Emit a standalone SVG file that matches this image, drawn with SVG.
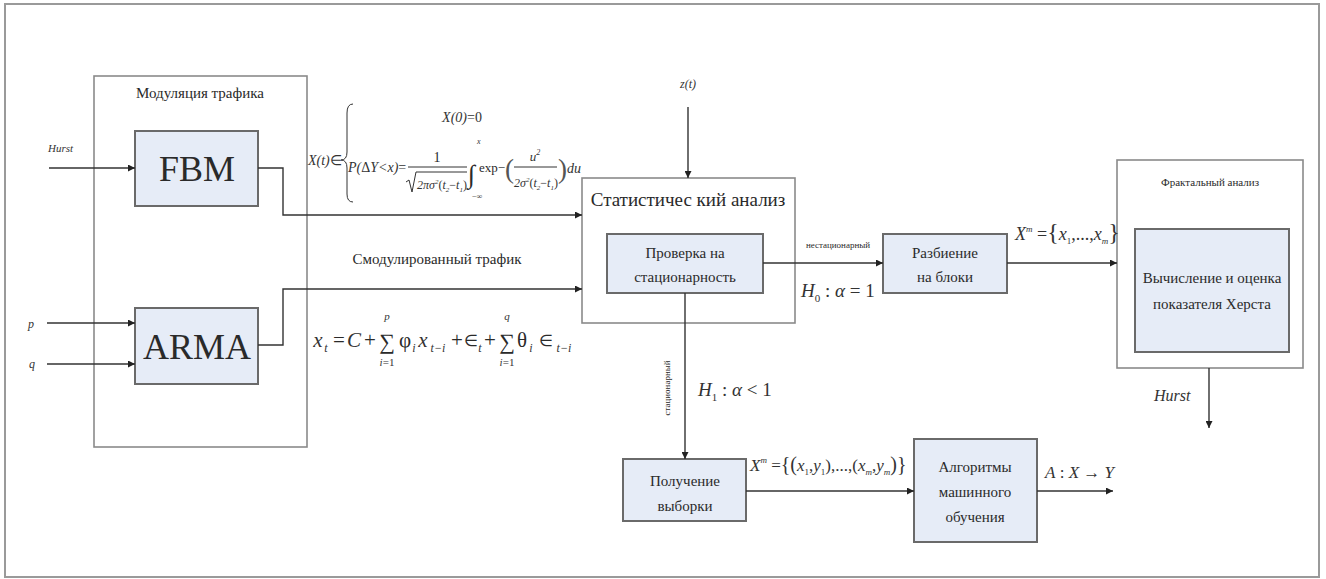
<svg xmlns="http://www.w3.org/2000/svg" width="1326" height="579" viewBox="0 0 1326 579">
<defs>
<marker id="ah" viewBox="0 0 10 10" refX="10" refY="5" markerWidth="9" markerHeight="7" markerUnits="userSpaceOnUse" orient="auto">
<path d="M0,0 L10,5 L0,10 z" fill="#222"/>
</marker>
<style>
.frame{fill:#fff;stroke:#9a9a9a;stroke-width:2}
.grp{fill:#fff;stroke:#8a8a8a;stroke-width:1.6}
.blk{fill:#e6ecf7;stroke:#6a6a6a;stroke-width:2}
.ln{fill:none;stroke:#333;stroke-width:1}
.arr{fill:none;stroke:#333;stroke-width:1.4;marker-end:url(#ah)}
text{font-family:"Liberation Serif","Times New Roman",serif;fill:#2a2a2a}
.t15{font-size:15px;text-anchor:middle}
.big{font-size:36px;text-anchor:middle}
.m{font-style:italic;fill:#333}
.c{text-anchor:middle}
.f21{font-size:21px}
.e{font-size:16px}
.s12{font-size:12px}
.s11{font-size:11px}
</style>
</defs>
<rect class="frame" x="5" y="4" width="1314" height="573"/>

<g id="modulation">
<rect class="grp" x="94" y="76" width="213" height="371"/>
<text class="t15" x="200" y="98">Модуляция трафика</text>
</g>
<g id="fbm">
<rect class="blk" x="135" y="131" width="123" height="75"/>
<text class="big" x="197" y="181">FBM</text>
</g>
<g id="arma">
<rect class="blk" x="135" y="308" width="123" height="76"/>
<text class="big" x="197" y="359">ARMA</text>
</g>
<g id="stat">
<rect class="grp" x="582" y="178" width="213" height="145"/>
<text x="688" y="206" style="font-size:19px;text-anchor:middle">Статистичес кий анализ</text>
</g>
<g id="check">
<rect class="blk" x="607" y="234" width="156" height="59"/>
<text class="t15" x="685" y="258">Проверка на</text>
<text class="t15" x="685" y="282">стационарность</text>
</g>
<g id="split">
<rect class="blk" x="883" y="234" width="124" height="59"/>
<text class="t15" x="945" y="258">Разбиение</text>
<text class="t15" x="945" y="282">на блоки</text>
</g>
<g id="fractal">
<rect class="grp" x="1117" y="160" width="186" height="208"/>
<text x="1210" y="186" style="font-size:11px;text-anchor:middle">Фрактальный анализ</text>
</g>
<g id="hurstcalc">
<rect class="blk" x="1135" y="229" width="154" height="123"/>
<text class="t15" x="1212" y="283">Вычисление и оценка</text>
<text class="t15" x="1212" y="309">показателя Херста</text>
</g>
<g id="sample">
<rect class="blk" x="623" y="459" width="123" height="62"/>
<text class="t15" x="685" y="486">Получение</text>
<text class="t15" x="685" y="511">выборки</text>
</g>
<g id="ml">
<rect class="blk" x="914" y="439" width="123" height="103"/>
<text class="t15" x="975" y="472">Алгоритмы</text>
<text class="t15" x="975" y="497">машинного</text>
<text class="t15" x="975" y="522">обучения</text>
</g>

<g id="connectors">
<line class="arr" x1="49" y1="168" x2="135" y2="168"/>
<line class="arr" x1="47" y1="323" x2="135" y2="323"/>
<line class="arr" x1="47" y1="364" x2="135" y2="364"/>
<polyline class="arr" points="258,168 283,168 283,215 582,215"/>
<polyline class="arr" points="258,345 283,345 283,289 582,289"/>
<line class="arr" x1="688" y1="107" x2="688" y2="178"/>
<line class="arr" x1="763" y1="263" x2="883" y2="263"/>
<line class="arr" x1="1007" y1="263" x2="1117" y2="263"/>
<line class="arr" x1="1209" y1="368" x2="1209" y2="428"/>
<line class="arr" x1="685" y1="293" x2="685" y2="459"/>
<line class="arr" x1="746" y1="491" x2="914" y2="491"/>
<line class="arr" x1="1037" y1="491" x2="1113" y2="491"/>
</g>

<g id="labels">
<text class="m" x="48" y="152" style="font-size:11px">Hurst</text>
<text class="m" x="28" y="328" style="font-size:12px">p</text>
<text class="m" x="29" y="368" style="font-size:12px">q</text>
<text class="m" x="688" y="88" style="font-size:12px;text-anchor:middle">z(t)</text>
<text x="437" y="264" style="font-size:15px;text-anchor:middle">Смодулированный трафик</text>
<text x="838" y="248" style="font-size:9px;text-anchor:middle">нестационарный</text>
<text x="670" y="388" transform="rotate(-90 670 388)" style="font-size:9px;text-anchor:middle">стационарный</text>
<text class="m" x="1154" y="401" style="font-size:16px">Hurst</text>

<text class="m" x="801" y="297" style="font-size:19px">H<tspan dy="5" style="font-size:11px;font-style:normal">0</tspan><tspan dy="-5" style="font-style:normal"> : </tspan>α<tspan style="font-style:normal"> = 1</tspan></text>
<text class="m" x="698" y="396" style="font-size:19px">H<tspan dy="5" style="font-size:11px;font-style:normal">1</tspan><tspan dy="-5" style="font-style:normal"> : </tspan>α<tspan style="font-style:normal"> &lt; 1</tspan></text>

<text class="m" x="1015" y="240" style="font-size:18px">X<tspan dy="-8" style="font-size:9px">m</tspan><tspan dy="8" style="font-style:normal"> =</tspan><tspan style="font-style:normal;font-size:24px">{</tspan>x<tspan dy="4" style="font-size:9px;font-style:normal">1</tspan><tspan dy="-4" style="font-style:normal">,...,</tspan>x<tspan dy="4" style="font-size:9px">m</tspan><tspan dy="-4" style="font-style:normal;font-size:24px">}</tspan></text>

<text class="m" x="750" y="471" style="font-size:17px">X<tspan dy="-8" style="font-size:9px">m</tspan><tspan dy="8" style="font-style:normal"> =</tspan><tspan style="font-style:normal;font-size:20px">{(</tspan>x<tspan dy="4" style="font-size:9px;font-style:normal">1</tspan><tspan dy="-4" style="font-style:normal">,</tspan>y<tspan dy="4" style="font-size:9px;font-style:normal">1</tspan><tspan dy="-4" style="font-style:normal">),...,(</tspan>x<tspan dy="4" style="font-size:9px">m</tspan><tspan dy="-4" style="font-style:normal">,</tspan>y<tspan dy="4" style="font-size:9px">m</tspan><tspan dy="-4" style="font-style:normal;font-size:20px">)}</tspan></text>

<text class="m" x="1045" y="478" style="font-size:17px">A<tspan style="font-style:normal"> : </tspan>X<tspan style="font-style:normal"> → </tspan>Y</text>

<!-- FBM formula -->
<text class="m" x="308" y="165" style="font-size:14px">X(t)<tspan style="font-style:normal">∈</tspan></text>
<path class="ln" d="M353,104 Q347,104 347,113 L347,152 Q347,160 341,160 Q347,160 347,168 L347,194 Q347,202 353,202"/>
<text class="m" x="462" y="122" style="font-size:14px;text-anchor:middle">X(0)<tspan style="font-style:normal">=0</tspan></text>
<text class="m" x="348" y="172" style="font-size:14px">P(<tspan style="font-style:normal">Δ</tspan>Y&lt;x)<tspan style="font-style:normal">=</tspan></text>
<text x="437" y="162" style="font-size:14px;text-anchor:middle">1</text>
<line class="ln" x1="408" y1="167" x2="467" y2="167"/>
<path class="ln" d="M406,182 L409,180 L412,192 L416,172 L467,172"/>
<text class="m" x="417" y="189" style="font-size:12px">2πσ<tspan dy="-5" style="font-size:7px">2</tspan><tspan dy="5" style="font-style:normal">(</tspan>t<tspan dy="3" style="font-size:7px">2</tspan><tspan dy="-3" style="font-style:normal">−</tspan>t<tspan dy="3" style="font-size:7px">1</tspan><tspan dy="-3" style="font-style:normal">)</tspan></text>
<text x="468" y="183" style="font-size:26px">∫</text>
<text class="m" x="477" y="144" style="font-size:8px">x</text>
<text x="472" y="199" style="font-size:8px">−∞</text>
<text x="479" y="172" style="font-size:13px">exp−</text>
<text x="505" y="178" style="font-size:27px;fill:#555">(</text>
<text class="m" x="535" y="161" style="font-size:13px;text-anchor:middle">u<tspan dy="-6" style="font-size:8px">2</tspan></text>
<line class="ln" x1="514" y1="167" x2="557" y2="167"/>
<text class="m" x="514" y="187" style="font-size:12px">2σ<tspan dy="-5" style="font-size:7px">2</tspan><tspan dy="5" style="font-style:normal">(</tspan>t<tspan dy="3" style="font-size:7px">2</tspan><tspan dy="-3" style="font-style:normal">−</tspan>t<tspan dy="3" style="font-size:7px">1</tspan><tspan dy="-3" style="font-style:normal">)</tspan></text>
<text x="558" y="178" style="font-size:27px;fill:#555">)</text>
<text class="m" x="567" y="173" style="font-size:14px">du</text>

<!-- ARMA formula -->
<text class="m f21 c" x="318" y="347">x</text>
<text class="m s12 c" x="326" y="352">t</text>
<text class="f21 c" x="339" y="347">=</text>
<text class="m f21 c" x="354" y="347">C</text>
<text class="f21 c" x="370" y="347">+</text>
<text class="c" x="387" y="349" style="font-size:22px">∑</text>
<text class="m s11 c" x="387" y="320">p</text>
<text class="m s11 c" x="387" y="366">i<tspan style="font-style:normal">=1</tspan></text>
<text class="f21 c" x="405" y="347">φ</text>
<text class="m s12 c" x="414" y="352">i</text>
<text class="m f21 c" x="423" y="347">x</text>
<text class="m s12 c" x="438" y="352">t−i</text>
<text class="f21 c" x="457" y="347">+</text>
<text class="e c" x="471" y="346">∈</text>
<text class="m s12 c" x="480" y="352">t</text>
<text class="f21 c" x="490" y="347">+</text>
<text class="c" x="507" y="349" style="font-size:22px">∑</text>
<text class="m s11 c" x="507" y="320">q</text>
<text class="m s11 c" x="507" y="366">i<tspan style="font-style:normal">=1</tspan></text>
<text class="f21 c" x="522" y="347">θ</text>
<text class="m s12 c" x="531" y="352">i</text>
<text class="e c" x="546" y="346">∈</text>
<text class="m s12 c" x="564" y="352">t−i</text>
</g>
</svg>
